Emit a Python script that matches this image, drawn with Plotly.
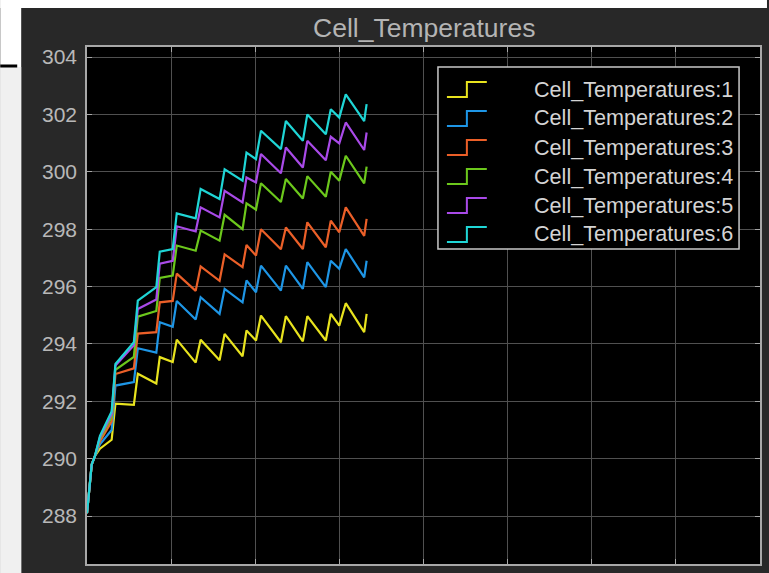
import plotly.graph_objects as go

# ---------------- data ----------------
time = [0.000, 0.056, 0.095, 0.154, 0.293, 0.338, 0.557, 0.604, 0.824, 0.865,
        1.019, 1.067, 1.292, 1.351, 1.576, 1.636, 1.849, 1.896, 2.009, 2.068,
        2.305, 2.364, 2.566, 2.619, 2.839, 2.898, 2.999, 3.076, 3.295, 3.324]

cell_1 = [288.1, 289.8, 290.1, 290.35, 290.66, 291.92, 291.88, 292.96, 292.62, 293.54,
          293.37, 294.15, 293.35, 294.15, 293.43, 294.35, 293.57, 294.47, 294.12, 294.99,
          294.06, 294.97, 294.09, 294.97, 294.12, 295.05, 294.64, 295.42, 294.41, 295.05]
cell_2 = [288.1, 289.8, 290.1, 290.5, 291.0, 292.55, 292.67, 293.85, 293.7, 294.76,
          294.6, 295.5, 294.85, 295.63, 295.05, 295.92, 295.45, 296.21, 295.8, 296.73,
          295.86, 296.73, 295.92, 296.85, 295.98, 296.9, 296.62, 297.31, 296.32, 296.9]
cell_3 = [288.1, 289.8, 290.1, 290.6, 291.3, 292.95, 293.15, 294.36, 294.41, 295.45,
          295.5, 296.45, 295.85, 296.7, 296.2, 297.12, 296.68, 297.45, 297.08, 298.0,
          297.3, 298.06, 297.31, 298.24, 297.37, 298.3, 297.89, 298.76, 297.77, 298.36]
cell_4 = [288.1, 289.8, 290.1, 290.7, 291.45, 293.1, 293.55, 294.95, 295.15, 296.3,
          296.38, 297.43, 297.25, 297.95, 297.6, 298.5, 298.0, 298.9, 298.68, 299.6,
          298.95, 299.75, 299.07, 299.85, 299.13, 300.0, 299.69, 300.56, 299.6, 300.18]
cell_5 = [288.1, 289.8, 290.1, 290.75, 291.55, 293.25, 293.95, 295.22, 295.55, 296.8,
          296.9, 298.1, 297.92, 298.76, 298.41, 299.34, 298.93, 299.8, 299.63, 300.62,
          299.95, 300.85, 300.15, 301.08, 300.4, 301.22, 300.99, 301.72, 300.76, 301.37]
cell_6 = [288.1, 289.8, 290.1, 290.8, 291.65, 293.3, 294.06, 295.51, 295.98, 297.22,
          297.31, 298.55, 298.38, 299.4, 299.05, 300.09, 299.69, 300.67, 300.44, 301.43,
          300.79, 301.77, 301.08, 302.0, 301.31, 302.18, 301.89, 302.7, 301.77, 302.36]

series_names = ["Cell_Temperatures:1", "Cell_Temperatures:2", "Cell_Temperatures:3",
                "Cell_Temperatures:4", "Cell_Temperatures:5", "Cell_Temperatures:6"]
series_values = [cell_1, cell_2, cell_3, cell_4, cell_5, cell_6]
series_colors = ["#e8e31e", "#1e96e6", "#eb5f28", "#6cc81c", "#a94ae8", "#1fd6d6"]

chart_title = "Cell_Temperatures"
y_ticks = [288, 290, 292, 294, 296, 298, 300, 302, 304]

# ---------------- layout geometry ----------------
W, H = 769, 573
L, R, T, B = 87, 762, 47, 564          # plot area in pixels


def px(xp):
    return (xp - L) / (R - L)


def py(yp):
    return (B - yp) / (B - T)


FONT = "Liberation Sans, Arial, Helvetica, sans-serif"

fig = go.Figure()
for name, vals, col in zip(series_names, series_values, series_colors):
    fig.add_trace(go.Scatter(x=time, y=vals, mode="lines", name=name,
                             line=dict(color=col, width=2.2), showlegend=False))

shapes = []
# white / light-gray surround at the left and top
shapes.append(dict(type="rect", xref="paper", yref="paper", layer="below",
                   x0=px(0), x1=px(21), y0=py(0), y1=py(H), line_width=0,
                   fillcolor="white"))
shapes.append(dict(type="rect", xref="paper", yref="paper", layer="below",
                   x0=px(0), x1=px(W), y0=py(0), y1=py(8), line_width=0,
                   fillcolor="white"))
shapes.append(dict(type="rect", xref="paper", yref="paper", layer="below",
                   x0=px(0), x1=px(21), y0=py(67), y1=py(H), line_width=0,
                   fillcolor="#f0f0f0"))
shapes.append(dict(type="line", xref="paper", yref="paper", layer="below",
                   x0=px(0), x1=px(17), y0=py(66), y1=py(66),
                   line=dict(color="black", width=3)))

# custom legend (step-shaped icons, like the original)
LX0, LX1, LY0, LY1 = 439, 741, 67, 249
shapes.append(dict(type="rect", xref="paper", yref="paper", layer="above",
                   x0=px(LX0), x1=px(LX1), y0=py(LY0), y1=py(LY1),
                   fillcolor="black", line=dict(color="#c8c8c8", width=1.5)))
annotations = []
row0, row_gap = 89, 29
for i, (name, col) in enumerate(zip(series_names, series_colors)):
    c = row0 + i * row_gap
    path = (f"M {px(448)} {py(c + 8)} L {px(468)} {py(c + 8)} "
            f"L {px(468)} {py(c - 7)} L {px(488)} {py(c - 7)}")
    shapes.append(dict(type="path", xref="paper", yref="paper", layer="above",
                       path=path, line=dict(color=col, width=2)))
    annotations.append(dict(xref="paper", yref="paper", x=px(533), y=py(c),
                            xanchor="left", yanchor="middle", showarrow=False,
                            text=name, font=dict(family=FONT, size=21.6, color="#d4d4d4")))

annotations.append(dict(xref="paper", yref="paper", x=0.5, y=py(28),
                        xanchor="center", yanchor="middle", showarrow=False,
                        text=chart_title, font=dict(family=FONT, size=26.5, color="#b4b4b4")))

fig.update_layout(
    width=W, height=H,
    margin=dict(l=L, r=W - R, t=T, b=H - B, pad=0),
    paper_bgcolor="#282828", plot_bgcolor="black",
    shapes=shapes, annotations=annotations,
    showlegend=False,
    xaxis=dict(range=[0, 8], dtick=1, tick0=0, showticklabels=False,
               showgrid=True, gridcolor="#505050", gridwidth=1,
               zeroline=False, showline=True, linecolor="#a8a8a8", linewidth=1.5,
               mirror="ticks", ticks="inside", ticklen=5, tickcolor="#a8a8a8"),
    yaxis=dict(range=[286.33, 304.35], tickvals=y_ticks,
               showgrid=True, gridcolor="#505050", gridwidth=1,
               zeroline=False, showline=True, linecolor="#a8a8a8", linewidth=1.5,
               mirror="ticks", ticks="inside", ticklen=5, tickcolor="#a8a8a8",
               tickfont=dict(family=FONT, size=21, color="#b8b8b8"),
               ticklabelstandoff=4),
)

fig.write_html("out.html")
